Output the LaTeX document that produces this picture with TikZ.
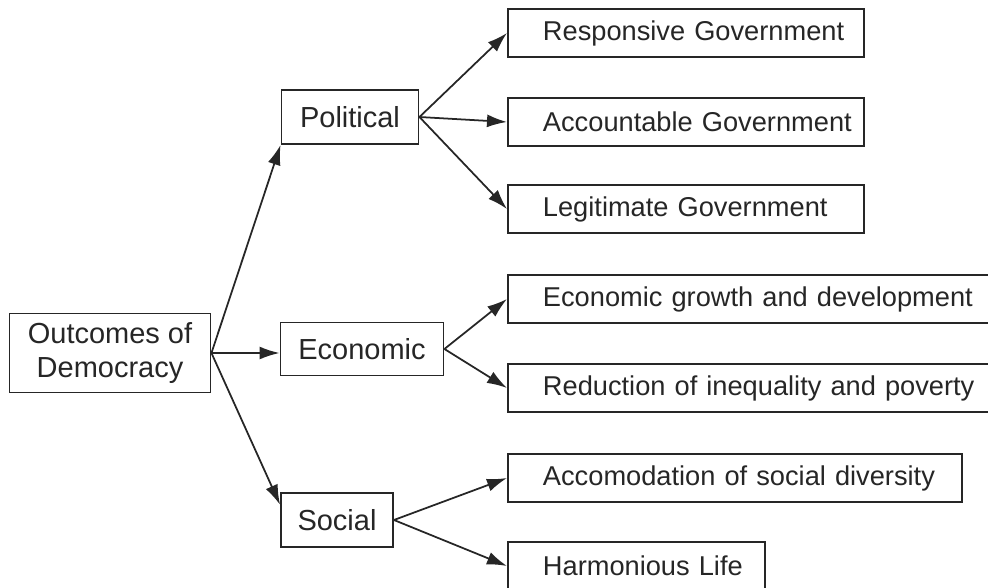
\documentclass[tikz,border=0pt]{standalone}
\usepackage{fontspec}
\setmainfont{Liberation Sans}
\usetikzlibrary{arrows.meta}

\begin{document}
\begin{tikzpicture}[x=0.02cm,y=-0.02cm,
  box/.style={draw=black!85,line width=1.1pt,text=black!85,inner sep=0pt,font=\fontsize{15.5}{19}\selectfont},
  mid/.style={box,font=\fontsize{16.5}{19}\selectfont},
  leaf/.style={box,anchor=west,minimum height=0.96cm,align=left,inner xsep=0.05cm,
    execute at begin node={\hspace*{0.65cm}}},
  arr/.style={draw=black!85,line width=1pt,-{Latex[length=0.4cm,width=0.26cm]}}]
\useasboundingbox (0,0) rectangle (988,588);
\clip (0,0) rectangle (988,588);
\node[mid,minimum width=4.02cm,minimum height=1.58cm,align=center] (root) at (110,353) {Outcomes of\\Democracy};
\node[mid,minimum width=2.74cm,minimum height=1.08cm] (pol) at (350,117) {Political};
\node[mid,minimum width=3.26cm,minimum height=1.06cm] (eco) at (362,349) {Economic};
\node[mid,minimum width=2.24cm,minimum height=1.08cm] (soc) at (337,520) {Social};
\node[leaf,text width=7.02cm] (resp) at (507,33) {Responsive Government};
\node[leaf,text width=7.02cm] (acc) at (507,122) {Accountable Government};
\node[leaf,text width=7.02cm] (leg) at (507,209) {Legitimate Government};
\node[leaf,text width=9.9cm] (grow) at (507,299) {Economic growth and development};
\node[leaf,text width=9.9cm] (red) at (507,388) {Reduction of inequality and poverty};
\node[leaf,text width=8.98cm] (acco) at (507,478) {Accomodation of social diversity};
\node[leaf,text width=5.04cm] (harm) at (507,566) {Harmonious Life};
\draw[arr] (root.east) -- (pol.south west);
\draw[arr] (root.east) -- (root.east -| eco.west);
\draw[arr] (root.east) -- (soc.165);
\foreach \t in {resp,acc,leg}{\draw[arr] (pol.east) -- (\t.west);}
\foreach \t in {grow,red}{\draw[arr] (eco.east) -- (\t.west);}
\foreach \t in {acco,harm}{\draw[arr] (soc.east) -- (\t.west);}
\end{tikzpicture}
\end{document}
